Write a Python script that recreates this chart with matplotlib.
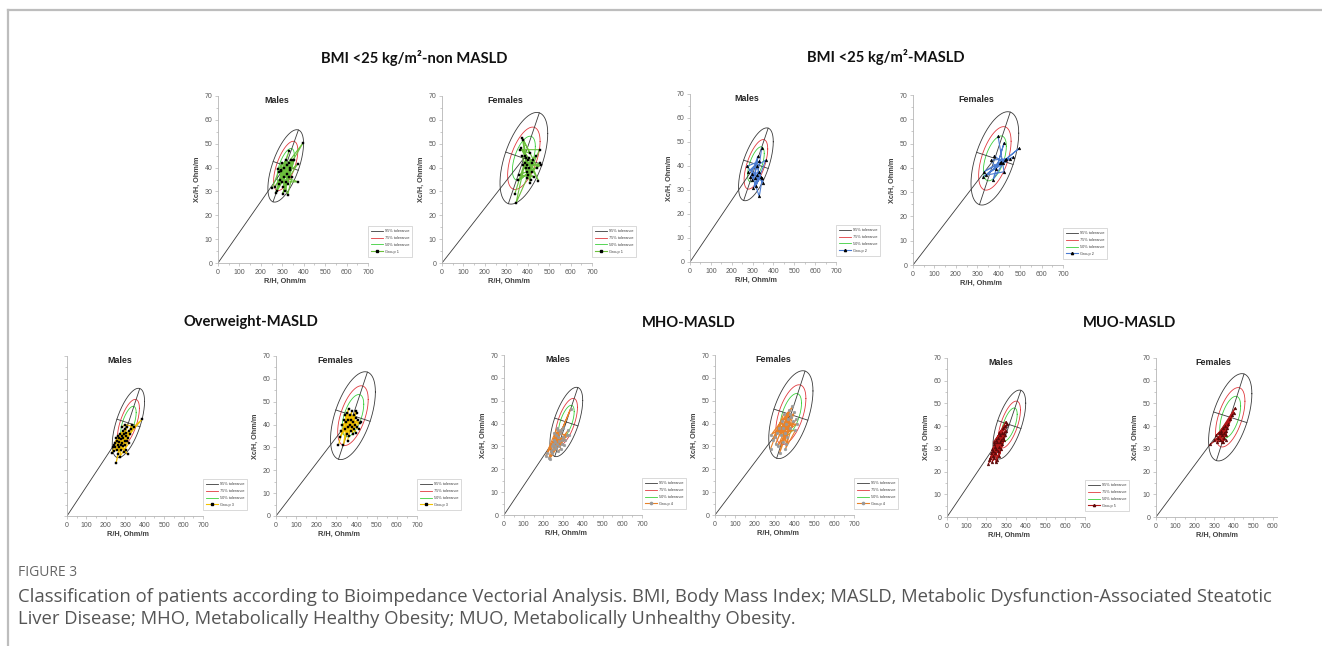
import numpy as np
import matplotlib
matplotlib.use("Agg")
import matplotlib.pyplot as plt
from matplotlib.lines import Line2D
from matplotlib.patches import Rectangle
from matplotlib.ticker import MultipleLocator

# ---------------- data (R/H, Xc/H in Ohm/m) ----------------
nonmasld_m_R = [252, 300, 285, 398, 310, 270, 332, 296, 325, 345, 280, 318, 305, 372, 290, 335, 275, 330,
                312, 355, 293, 340, 265, 322, 308, 375, 298, 350, 302, 338, 315, 328, 320, 286, 330]
nonmasld_m_Xc = [31.5, 42, 33, 50.5, 40, 29.5, 47, 38.5, 28.5, 36, 39.5, 43, 32, 41.5, 35, 40, 30, 42,
                 30, 43, 39, 43, 32, 37.5, 36, 34, 34, 43, 29, 39, 34, 33, 41, 38, 36]
nonmasld_f_R = [340, 392, 345, 455, 365, 410, 375, 398, 430, 360, 445, 380, 412, 388, 460, 355, 420,
                370, 405, 450, 385, 400, 378, 415, 395, 440, 390, 372, 425, 402, 458, 408, 418, 395]
nonmasld_f_Xc = [29, 44, 25, 47.5, 47.5, 46, 52.5, 38, 36, 37, 40, 51.5, 33.5, 42, 41, 35, 38,
                 48, 44, 34.5, 45, 43, 41, 35, 41, 45, 40, 45, 43, 37, 42, 40, 42, 35.5]
masld_m_R = [344, 316, 363, 280, 332, 272, 352, 320, 299, 347, 332, 296, 340, 304, 331, 290, 325, 310, 320]
masld_m_Xc = [47.5, 31.5, 42.5, 37.7, 42, 39.8, 33, 39.8, 34.2, 35, 27.3, 36.7, 35.3, 30.8, 37.7, 35.5, 44, 35, 36.3]
masld_f_R = [397, 425, 342, 495, 428, 327, 467, 405, 331, 432, 373, 425, 389, 366, 451, 412, 420, 380]
masld_f_Xc = [53, 38.4, 37, 48, 43.2, 36.3, 44.5, 41.8, 38.4, 43.8, 35, 50.3, 39.7, 43.2, 43.8, 42.5, 42, 45]
ow_m_R = [230, 274, 245, 298, 252, 282, 262, 310, 240, 290, 268, 304, 236, 294, 272, 320, 250, 286, 258, 312,
          276, 330, 242, 300, 264, 318, 255, 388, 278, 306, 248, 296, 270, 325, 260, 284, 292, 315, 266, 302,
          280, 335, 288, 308, 345, 300, 285]
ow_m_Xc = [27.5, 36, 32, 38, 23, 35, 27, 39, 31, 34, 30, 29, 30, 36, 26, 32, 34, 37, 33, 27,
           31, 38, 28.5, 31, 35, 37, 29, 42.5, 33.5, 36.5, 30, 33, 34, 36, 31, 32, 28, 34, 32.5, 35,
           29, 40, 30.5, 33, 39, 40, 39]
ow_f_R = [310, 360, 335, 378, 318, 400, 345, 362, 330, 395, 350, 420, 338, 370, 355, 405, 325, 385,
          342, 398, 365, 410, 352, 388, 372, 415, 348, 382, 358, 402, 368, 390, 375, 380, 395, 355]
ow_f_Xc = [31, 47, 31, 46, 34.5, 45, 38, 35, 40, 43, 36, 41, 42, 37, 39, 42, 37, 44,
           44, 36.5, 40, 38, 45, 38, 42, 40.5, 41, 41, 42, 39, 44, 40, 39, 36, 46, 33]
mho_m_R = [212, 268, 228, 300, 245, 338, 258, 290, 220, 275, 250, 325, 232, 284, 262, 310, 238, 295,
           270, 330, 242, 278, 255, 318, 248, 300, 265, 292, 252, 305, 260, 280, 272, 288, 275]
mho_m_Xc = [26, 38, 25, 34, 27, 46.5, 30, 37, 27, 37, 29, 37, 24.5, 36, 29.5, 33, 28, 31,
            31, 35, 30, 30, 36, 35, 31, 38, 35, 33, 33, 30.5, 32, 32.5, 34, 29, 28]
mho_f_R = [280, 345, 290, 375, 305, 390, 282, 360, 325, 400, 300, 370, 340, 410, 315, 385, 330, 395,
           355, 405, 310, 380, 320, 415, 350, 365, 335, 380, 360, 340]
mho_f_Xc = [29, 44, 33, 46, 31, 47.5, 35, 40, 27, 45, 34, 42, 32, 42, 30, 43, 35, 41,
            29, 37, 36, 38, 38, 40, 36, 34, 41, 44, 31, 38]
muo_m_R = [210, 245, 220, 262, 228, 283, 235, 270, 215, 255, 240, 293, 225, 268, 248, 298, 232, 280, 252,
           305, 238, 275, 258, 300, 242, 288, 265, 295, 230, 278, 250, 290, 262, 285, 236, 272, 247, 260]
muo_m_Xc = [23.5, 28, 26, 31, 24, 35, 29, 36, 25, 33, 26, 40, 28, 33, 34, 42, 27, 32, 25,
            41, 32, 34, 29, 38, 31, 34, 27, 36, 30, 37, 30, 37, 37, 39, 33, 30, 24, 35]
muo_f_R = [280, 340, 300, 358, 315, 370, 310, 345, 325, 407, 330, 352, 320, 390, 338, 360, 335, 380,
           345, 365, 350, 400, 332, 362, 355]
muo_f_Xc = [32, 36, 34, 34, 33, 41, 36, 39, 37, 48, 34, 37, 35, 45, 33, 38, 38, 43,
            33, 39, 35, 46, 37, 36, 40]

# reference population (mean R, mean Xc, sd R, sd Xc, r)
male_ref = (316, 40.7, 34.0, 6.2, 0.62)
female_ref = (382, 43.9, 45.5, 7.85, 0.54)
tolerances = [0.95, 0.75, 0.50]
tol_labels = ["95% tolerance", "75% tolerance", "50% tolerance"]
tol_colors = ["#3a3a3a", "#e0393e", "#3ccf3c"]

group_titles = ["BMI <25 kg/m\u00b2-non MASLD", "BMI <25 kg/m\u00b2-MASLD",
                "Overweight-MASLD", "MHO-MASLD", "MUO-MASLD"]
group_line_colors = ["#6cbf3c", "#4a7bd0", "#f2c200", "#e8822a", "#b01818"]
group_marker_colors = ["black", "black", "black", "#9a9a9a", "#5a0a0a"]
group_markers = ["s", "^", "s", "o", "^"]

W, H = 1322, 646
fig = plt.figure(figsize=(W / 100, H / 100), dpi=100)
fig.patch.set_facecolor("white")

AX_FONT = "Liberation Sans"
TICK_C = "#595959"


def add_ax(x0, x1, yt, yb):
    return fig.add_axes([x0 / W, 1 - yb / H, (x1 - x0) / W, (yb - yt) / H])


def draw_panel(px, R, Xc, ref, gi, sex, show_y=True, legend=True):
    x0, x1, yt, yb = px
    ax = add_ax(x0, x1, yt, yb)
    wpx, hpx = x1 - x0, yb - yt
    ax.set_xlim(0, 700)
    ax.set_ylim(0, 70)
    ax.patch.set_alpha(0)
    for s in ["top", "right"]:
        ax.spines[s].set_visible(False)
    for s in ["left", "bottom"]:
        ax.spines[s].set_color("#b5b5b5")
        ax.spines[s].set_linewidth(0.6)
    ax.set_xticks(range(0, 701, 100))
    ax.set_yticks(range(0, 71, 10))
    ax.xaxis.set_minor_locator(MultipleLocator(50))
    ax.yaxis.set_minor_locator(MultipleLocator(5))
    ax.tick_params(which="both", direction="out", color="#b5b5b5", width=0.5)
    ax.tick_params(which="major", length=2, labelsize=5.0, labelcolor=TICK_C, pad=2)
    ax.tick_params(which="minor", length=1.2)
    for lab in ax.get_xticklabels() + ax.get_yticklabels():
        lab.set_fontfamily(AX_FONT)
    if not show_y:
        ax.tick_params(labelleft=False)

    mx, my, sx, sy, r = ref
    t = np.linspace(0, 2 * np.pi, 300)
    handles = []
    for p, c, lab in zip(tolerances, tol_colors, tol_labels):
        k = np.sqrt(-2 * np.log(1 - p))
        ex = mx + k * sx * np.cos(t)
        ey = my + k * sy * (r * np.cos(t) + np.sqrt(1 - r * r) * np.sin(t))
        ax.plot(ex, ey, color=c, lw=0.6, zorder=2)
        handles.append(Line2D([], [], color=c, lw=0.6))
    # axes of the 95% ellipse (in screen space)
    a, b = wpx / 700.0, hpx / 70.0
    cov = np.array([[a * a * sx * sx, a * b * r * sx * sy], [a * b * r * sx * sy, b * b * sy * sy]])
    vals, vecs = np.linalg.eigh(cov)
    k95 = np.sqrt(-2 * np.log(1 - 0.95))
    for i in range(2):
        v = vecs[:, i] * k95 * np.sqrt(vals[i])
        ax.plot([mx - v[0] / a, mx + v[0] / a], [my - v[1] / b, my + v[1] / b],
                color=tol_colors[0], lw=0.6, zorder=2)
    ax.plot([0, mx], [0, my], color=tol_colors[0], lw=0.6, zorder=2)

    ax.plot(R, Xc, color=group_line_colors[gi], lw=0.8, zorder=3,
            marker=group_markers[gi], ms=2.0, mfc=group_marker_colors[gi],
            mec=group_marker_colors[gi], mew=0.3)
    handles.append(Line2D([], [], color=group_line_colors[gi], lw=0.8, marker=group_markers[gi],
                          ms=1.6, mfc=group_marker_colors[gi], mec=group_marker_colors[gi]))

    title_x = 0.39 if sex == "Males" else 0.42
    ax.text(title_x, 0.972, sex, transform=ax.transAxes, ha="center", va="center",
            fontsize=6.4, fontweight="bold", color="#262626", family=AX_FONT)
    ax.text(0.45, -18.0 / hpx, "R/H, Ohm/m", transform=ax.transAxes, ha="center", va="center",
            fontsize=5.3, fontweight="bold", color="#404040", family=AX_FONT)
    if show_y:
        ax.text(-21.0 / wpx, 0.5, "Xc/H, Ohm/m", transform=ax.transAxes, ha="center", va="center",
                rotation=90, fontsize=5.3, fontweight="bold", color="#404040", family=AX_FONT)
    if legend:
        leg = ax.legend(handles, tol_labels + ["Group %d" % (gi + 1)], loc="lower left",
                        bbox_to_anchor=(1.0, 6.5 / hpx), frameon=True, fancybox=False,
                        handlelength=3.2, handletextpad=0.4, borderpad=0.7, labelspacing=0.75,
                        borderaxespad=0, prop={"family": AX_FONT, "size": 2.8})
        leg.get_frame().set_edgecolor("#bdbdbd")
        leg.get_frame().set_linewidth(0.5)
        for txt in leg.get_texts():
            txt.set_color("#404040")
    return ax


panels = [
    ((218, 368, 96, 263), nonmasld_m_R, nonmasld_m_Xc, male_ref, 0, "Males", True),
    ((442, 592, 96, 263), nonmasld_f_R, nonmasld_f_Xc, female_ref, 0, "Females", True),
    ((690, 836, 94, 262), masld_m_R, masld_m_Xc, male_ref, 1, "Males", True),
    ((913, 1063, 95, 265), masld_f_R, masld_f_Xc, female_ref, 1, "Females", True),
    ((67, 203, 356, 516), ow_m_R, ow_m_Xc, male_ref, 2, "Males", False),
    ((276, 417, 356, 516), ow_f_R, ow_f_Xc, female_ref, 2, "Females", True),
    ((504, 642, 355, 515), mho_m_R, mho_m_Xc, male_ref, 3, "Males", True),
    ((715, 854, 355, 515), mho_f_R, mho_f_Xc, female_ref, 3, "Females", True),
    ((947, 1085, 358, 517), muo_m_R, muo_m_Xc, male_ref, 4, "Males", True),
    ((1156, 1292, 358, 517), muo_f_R, muo_f_Xc, female_ref, 4, "Females", True),
]
for i, (px, R, Xc, ref, gi, sex, showy) in enumerate(panels):
    draw_panel(px, R, Xc, ref, gi, sex, show_y=showy, legend=(i != 9))

# group titles
title_pos = [(414, 58), (886, 57), (251, 322), (689, 323), (1130, 323)]
for (tx, ty), tt in zip(title_pos, group_titles):
    fig.text(tx / W, 1 - ty / H, tt, ha="center", va="center", fontsize=10.6,
             fontweight="bold", family="Lato", color="#111111")

# right-hand clipping of the last panel (image crop)
fig.add_artist(Rectangle((1278 / W, 1 - 545 / H), (W - 1278) / W, 250 / H,
                         transform=fig.transFigure, facecolor="white", edgecolor="none", zorder=10))

# frame lines of the page
fig.add_artist(Line2D([8 / W, 8 / W], [1 - 10 / H, 0], transform=fig.transFigure,
                      color="#bdbdbd", lw=1.6, zorder=11))
fig.add_artist(Line2D([8 / W, 1], [1 - 10 / H, 1 - 10 / H], transform=fig.transFigure,
                      color="#bdbdbd", lw=1.6, zorder=11))

# caption
fig.text(18 / W, 1 - 572 / H, "FIGURE 3", fontsize=10, color="#666666", family="Open Sans",
         va="center", ha="left")
fig.text(18 / W, 1 - 597 / H,
         "Classification of patients according to Bioimpedance Vectorial Analysis. BMI, Body Mass Index; "
         "MASLD, Metabolic Dysfunction-Associated Steatotic",
         fontsize=13.3, color="#555555", family="Open Sans", va="center", ha="left")
fig.text(18 / W, 1 - 619 / H,
         "Liver Disease; MHO, Metabolically Healthy Obesity; MUO, Metabolically Unhealthy Obesity.",
         fontsize=13.3, color="#555555", family="Open Sans", va="center", ha="left")

fig.savefig("out.png", dpi=100, facecolor="white")
